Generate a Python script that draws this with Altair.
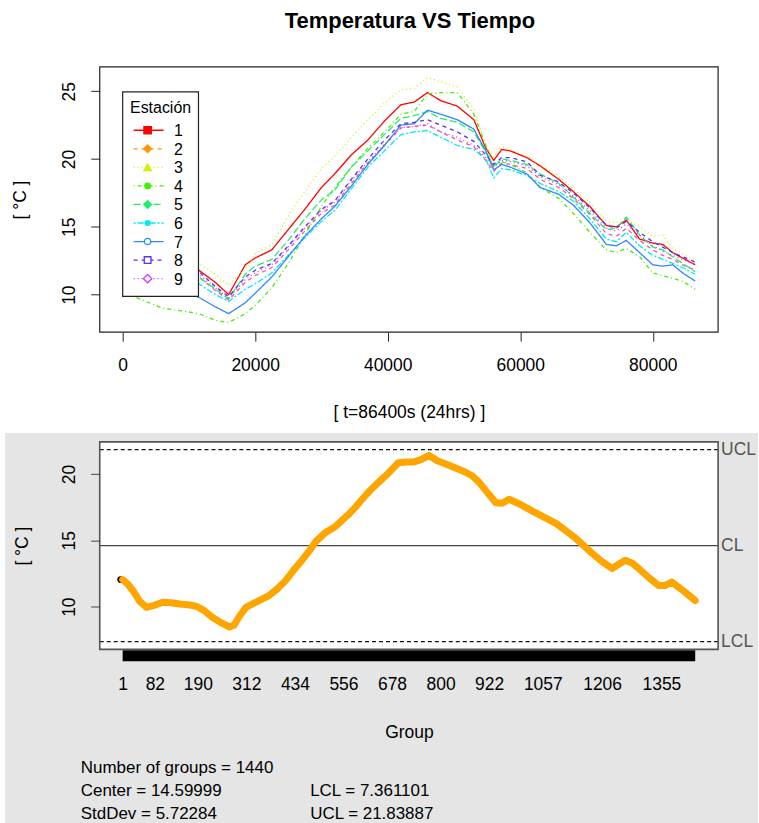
import altair as alt
import pandas as pd

# ---------------- data: top panel (temperature per station) ----------------
tiempo = [0, 3000, 6000, 9000, 11500, 14000, 16000, 18500, 20000, 22500, 25000,
          27500, 30000, 32000, 34500, 37000, 39500, 42000, 44000, 46000, 48000,
          50500, 53000, 54800, 56000, 57200, 58500, 61000, 63000, 65800, 68000,
          70500, 73000, 74500, 76000, 78000, 80000, 81500, 83000, 84500, 86400]

est1 = [12.6, 12.0, 11.9, 12.0, 11.8, 10.9, 10.0, 12.2, 12.7, 13.3, 14.8, 16.3, 17.9, 18.9,
        20.3, 21.4, 22.8, 24.0, 24.2, 24.9, 24.3, 23.9, 22.9, 20.8, 19.9, 20.7, 20.6, 20.1,
        19.5, 18.5, 17.6, 16.5, 15.1, 15.0, 15.5, 14.1, 13.8, 13.7, 13.1, 12.7, 12.2]
est2 = [11.9, 11.3, 11.2, 11.3, 11.3, 10.3, 9.6, 10.9, 11.4, 12.0, 13.3, 14.7, 16.0, 16.6,
        18.2, 19.7, 21.0, 22.3, 22.4, 22.5, 22.0, 21.4, 20.9, 19.9, 19.1, 19.7, 19.6, 19.3,
        18.5, 17.9, 17.1, 15.9, 14.5, 14.3, 14.9, 14.0, 13.3, 12.9, 12.6, 12.2, 11.8]
est3 = [13.0, 12.5, 12.4, 12.5, 12.3, 11.5, 10.7, 11.9, 13.0, 13.7, 15.8, 17.6, 19.3, 20.2,
        21.6, 22.9, 24.1, 25.1, 25.2, 26.0, 25.7, 25.3, 23.7, 21.0, 20.1, 20.9, 20.7, 20.2,
        19.6, 18.7, 17.8, 16.8, 15.4, 15.3, 15.6, 15.0, 14.3, 14.4, 13.4, 13.0, 12.5]
est4 = [10.2, 9.6, 9.0, 8.8, 8.6, 8.1, 7.95, 8.6, 9.2, 10.5, 12.3, 14.4, 16.5, 17.9,
        19.4, 20.8, 22.0, 23.3, 23.5, 24.8, 24.9, 24.9, 23.3, 21.0, 19.5, 19.8, 19.6, 19.0,
        17.9, 17.1, 16.0, 14.6, 13.3, 13.1, 13.4, 12.8, 11.6, 11.4, 11.2, 11.0, 10.4]
est5 = [12.0, 11.4, 11.2, 11.2, 11.3, 10.4, 9.7, 11.5, 12.1, 12.6, 14.0, 15.6, 17.0, 17.7,
        19.4, 20.6, 21.8, 23.0, 23.2, 23.5, 23.0, 22.7, 22.0, 20.5, 19.4, 20.0, 19.9, 19.6,
        18.9, 18.2, 17.2, 16.0, 14.8, 14.9, 15.7, 14.4, 13.5, 13.3, 12.8, 12.3, 11.7]
est6 = [11.7, 11.2, 11.0, 11.0, 10.8, 10.0, 9.5, 10.4, 10.8, 11.6, 12.9, 14.2, 15.4, 16.2,
        17.8, 19.4, 20.6, 21.8, 22.0, 22.1, 21.6, 21.0, 20.7, 20.0, 18.6, 19.3, 19.2, 18.8,
        18.2, 17.6, 16.9, 15.6, 14.1, 13.9, 14.6, 13.6, 12.9, 12.6, 12.3, 12.0, 11.5]
est7 = [11.3, 10.9, 10.6, 10.2, 9.8, 9.1, 8.6, 9.4, 10.1, 11.3, 12.8, 14.3, 15.6, 16.5,
        18.0, 19.6, 21.0, 22.5, 22.6, 23.6, 23.3, 22.9, 22.2, 20.6, 19.2, 19.6, 19.4, 18.9,
        17.9, 17.4, 16.6, 15.3, 13.7, 13.6, 14.0, 13.1, 12.2, 12.1, 12.2, 11.6, 11.0]
est8 = [12.2, 11.6, 11.5, 11.6, 11.7, 10.6, 9.85, 11.3, 11.8, 12.3, 13.6, 15.0, 16.3, 16.9,
        18.5, 20.0, 21.4, 22.6, 22.7, 22.9, 22.5, 22.0, 21.3, 20.3, 19.6, 20.1, 20.1, 19.8,
        18.8, 18.3, 17.5, 16.4, 15.1, 14.9, 15.4, 14.6, 13.9, 13.5, 13.1, 12.8, 12.4]
est9 = [12.1, 11.5, 11.4, 11.5, 11.5, 10.5, 9.75, 11.1, 11.6, 12.2, 13.5, 14.9, 16.2, 16.8,
        18.4, 19.8, 21.1, 22.3, 22.4, 22.6, 22.0, 21.6, 21.0, 20.1, 19.4, 19.9, 19.8, 19.5,
        18.7, 18.1, 17.3, 16.2, 14.9, 14.7, 15.2, 14.4, 13.6, 13.2, 12.9, 12.6, 12.2]

estaciones = ["1", "2", "3", "4", "5", "6", "7", "8", "9"]
series = [est1, est2, est3, est4, est5, est6, est7, est8, est9]

top_x_ticks = [0, 20000, 40000, 60000, 80000]
top_y_ticks = [10, 15, 20, 25]

# ---------------- data: bottom panel (qcc chart) ----------------
grupos = [1, 14, 27, 44, 61, 80, 102, 123, 144, 165, 186, 206, 227, 248, 269, 281, 295, 311,
          340, 369, 390, 411, 432, 452, 470, 486, 511, 536, 552, 569, 586, 603, 624, 644,
          670, 694, 713, 732, 752, 771, 792, 813, 838, 863, 880, 897, 918, 939, 955, 972,
          1001, 1031, 1060, 1089, 1114, 1139, 1160, 1181, 1206, 1231, 1248, 1264, 1281,
          1298, 1323, 1348, 1365, 1381, 1410, 1440]
valores = [12.04, 11.7, 11.2, 10.4, 9.95, 10.1, 10.33, 10.3, 10.2, 10.15, 10.03, 9.7, 9.18,
           8.8, 8.47, 8.6, 9.3, 9.95, 10.4, 10.84, 11.35, 11.98, 12.8, 13.5, 14.2, 14.9,
           15.6, 16.05, 16.5, 16.95, 17.5, 18.1, 18.8, 19.37, 20.1, 20.85, 20.9, 20.9, 21.1,
           21.4, 21.0, 20.76, 20.45, 20.13, 19.85, 19.37, 18.6, 17.84, 17.8, 18.1, 17.7,
           17.2, 16.75, 16.3, 15.75, 15.17, 14.6, 14.02, 13.4, 12.88, 13.2, 13.5, 13.3,
           12.88, 12.2, 11.6, 11.6, 11.85, 11.2, 10.46]

limit_labels = ["UCL", "CL", "LCL"]
limit_values = [21.83887, 14.59999, 7.361101]
group_ticks = [1, 82, 190, 312, 434, 556, 678, 800, 922, 1057, 1206, 1355]
bottom_y_ticks = [10, 15, 20]
n_groups = 1440
stats_left = ["Number of groups = 1440", "Center = 14.59999", "StdDev = 5.72284"]
stats_right = ["LCL = 7.361101", "UCL = 21.83887"]

# ---------------- styles ----------------
FONT = "Liberation Sans"
FS = 17.5
W = 620
H1 = 266
H2 = 208
line_colors = ["#FF0000", "#FF4FA3", "#D2F000", "#44EE00", "#1EEE6A",
               "#00EAF2", "#2F86FF", "#5B2EF0", "#C43CFF"]
legend_colors = ["#FF0000", "#FF9500", "#D2F000", "#44EE00", "#1EEE6A",
                 "#00EAF2", "#2F86FF", "#5B2EF0", "#C43CFF"]
dashes = [[1, 0], [4, 4], [1, 3], [1, 3, 4, 3], [7, 3], [2, 2, 6, 2], [1, 0], [4, 4], [1, 3]]
shapes = ["square", "diamond", "triangle-up", "circle", "diamond", "circle",
          "circle", "square", "diamond"]
filled = [True, True, True, True, True, True, False, False, False]
sizes = [55, 60, 55, 30, 60, 22, 40, 45, 70]
limit_colors = ["#111111", "#444444", "#111111"]
limit_dashes = [[4, 3], [1, 0], [4, 3]]

one = pd.DataFrame({"k": [0]})

# ---------------- top chart ----------------
rows = []
for name, vals in zip(estaciones, series):
    for t, v in zip(tiempo, vals):
        rows.append({"t": t, "temp": v, "serie": name})
df_top = pd.DataFrame(rows)

xs_top = alt.Scale(domain=[-3456, 89856], nice=False, zero=False)
ys_top = alt.Scale(domain=[7.23, 26.79], nice=False, zero=False)

top_bg = alt.Chart(one).mark_rect(fill="white").encode(
    x=alt.value(-99), x2=alt.value(660), y=alt.value(-65), y2=alt.value(367))

top_lines = alt.Chart(df_top).mark_line(strokeWidth=1.3).encode(
    x=alt.X("t:Q", scale=xs_top,
            axis=alt.Axis(values=top_x_ticks, format="d", grid=False, domain=False,
                          tickSize=9, tickColor="#222", labelFontSize=FS, labelFont=FONT,
                          labelColor="black", labelPadding=15, labelFlush=False,
                          labelOverlap=False, title="[ t=86400s (24hrs) ]",
                          titleFont=FONT, titleFontSize=FS, titleFontWeight="normal",
                          titleColor="black", titleX=310, titleY=81,
                          titleBaseline="middle", titleAlign="center", zindex=1)),
    y=alt.Y("temp:Q", scale=ys_top,
            axis=alt.Axis(values=top_y_ticks, grid=False, domain=False, tickSize=9,
                          tickColor="#222", labelFontSize=FS, labelFont=FONT,
                          labelColor="black", labelAngle=270, labelAlign="center",
                          labelBaseline="bottom", labelPadding=12, labelFlush=False,
                          title="[ °C ]", titleFont=FONT, titleFontSize=FS,
                          titleFontWeight="normal", titleColor="black", titleAngle=270,
                          titleX=-79, titleY=133, titleBaseline="middle",
                          titleAlign="center", zindex=1)),
    color=alt.Color("serie:N", scale=alt.Scale(domain=estaciones, range=line_colors),
                    legend=None),
    strokeDash=alt.StrokeDash("serie:N", scale=alt.Scale(domain=estaciones, range=dashes),
                              legend=None),
)

legend_box = alt.Chart(one).mark_rect(fill="white", stroke="#222", strokeWidth=1.2).encode(
    x=alt.value(23), x2=alt.value(99), y=alt.value(25), y2=alt.value(230))
legend_title = alt.Chart(one).mark_text(font=FONT, fontSize=16, baseline="middle",
                                        align="center", color="black").encode(
    x=alt.value(61), y=alt.value(41), text=alt.value("Estación"))

legend_layers = []
for i, name in enumerate(estaciones):
    ly = 63.5 + i * 18.6
    legend_layers.append(
        alt.Chart(one).mark_rule(color=legend_colors[i], strokeWidth=1.3,
                                 strokeDash=dashes[i]).encode(
            x=alt.value(34), x2=alt.value(64), y=alt.value(ly)))
    legend_layers.append(
        alt.Chart(one).mark_point(shape=shapes[i], size=sizes[i], filled=True, opacity=1,
                                  fill=legend_colors[i] if filled[i] else "white",
                                  stroke=legend_colors[i], strokeWidth=1.3).encode(
            x=alt.value(48), y=alt.value(ly)))
    legend_layers.append(
        alt.Chart(one).mark_text(font=FONT, fontSize=16, baseline="middle", align="center",
                                 color="black").encode(
            x=alt.value(79), y=alt.value(ly + 1), text=alt.value(name)))

top_frame = alt.Chart(one).mark_rect(fillOpacity=0, stroke="#222", strokeWidth=1.2).encode(
    x=alt.value(0), x2=alt.value(W), y=alt.value(0), y2=alt.value(H1))

top_title = alt.Chart(one).mark_text(font=FONT, fontSize=22, fontWeight="bold",
                                     baseline="middle", align="center", color="black").encode(
    x=alt.value(311), y=alt.value(-46), text=alt.value("Temperatura VS Tiempo"))

top = alt.layer(top_bg, top_lines, legend_box, legend_title, *legend_layers, top_frame,
                top_title).properties(width=W, height=H1)

# ---------------- bottom chart ----------------
df_q = pd.DataFrame({"g": grupos, "v": valores})
df_lim = pd.DataFrame({"lab": limit_labels, "v": limit_values})
df_bar = pd.DataFrame({"g0": [1], "g1": [n_groups]})
df_first = pd.DataFrame({"g": grupos[:1], "v": valores[:1]})

xs_bot = alt.Scale(domain=[1 - 0.04 * (n_groups - 1), n_groups + 0.04 * (n_groups - 1)],
                   nice=False, zero=False)
ys_bot = alt.Scale(domain=[6.78, 22.42], nice=False, zero=False)

bot_bg = alt.Chart(one).mark_rect(fill="#E5E5E5").encode(
    x=alt.value(-95), x2=alt.value(660), y=alt.value(-9), y2=alt.value(382))
bot_plot = alt.Chart(one).mark_rect(fill="white").encode(
    x=alt.value(0), x2=alt.value(W), y=alt.value(0), y2=alt.value(H2))

rule_layers = []
for lab, val, col, dsh in zip(limit_labels, limit_values, limit_colors, limit_dashes):
    rule_layers.append(
        alt.Chart(pd.DataFrame({"v": [val]})).mark_rule(
            color=col, strokeWidth=1.3, strokeDash=dsh).encode(
            y=alt.Y("v:Q", scale=ys_bot)))

bot_lim_text = alt.Chart(df_lim).mark_text(font=FONT, fontSize=FS, align="left",
                                           baseline="middle", color="#555").encode(
    x=alt.value(623), y=alt.Y("v:Q", scale=ys_bot), text="lab:N")

bot_first = alt.Chart(df_first).mark_circle(size=45, color="black", opacity=1,
                                            xOffset=-2).encode(
    x=alt.X("g:Q", scale=xs_bot), y=alt.Y("v:Q", scale=ys_bot))

bot_line = alt.Chart(df_q).mark_line(color="#FFA500", strokeWidth=7, strokeCap="round",
                                     strokeJoin="round").encode(
    x=alt.X("g:Q", scale=xs_bot,
            axis=alt.Axis(values=group_ticks, format="d", grid=False, domain=False,
                          ticks=False, labelFontSize=FS, labelFont=FONT,
                          labelColor="black", labelPadding=26, labelFlush=False,
                          labelOverlap=False, title="Group", titleFont=FONT,
                          titleFontSize=FS, titleFontWeight="normal", titleColor="black",
                          titleX=310, titleY=83, titleBaseline="middle",
                          titleAlign="center", zindex=1)),
    y=alt.Y("v:Q", scale=ys_bot,
            axis=alt.Axis(values=bottom_y_ticks, grid=False, domain=False, tickSize=9,
                          tickColor="#444", labelFontSize=FS, labelFont=FONT,
                          labelColor="black", labelAngle=270, labelAlign="center",
                          labelBaseline="bottom", labelPadding=12, labelFlush=False,
                          title="[ °C ]", titleFont=FONT, titleFontSize=FS,
                          titleFontWeight="normal", titleColor="black", titleAngle=270,
                          titleX=-77, titleY=104, titleBaseline="middle",
                          titleAlign="center", zindex=1)))

bot_bar = alt.Chart(df_bar).mark_rect(color="black").encode(
    x=alt.X("g0:Q", scale=xs_bot), x2="g1:Q", y=alt.value(209), y2=alt.value(220))

bot_frame = alt.Chart(one).mark_rect(fillOpacity=0, stroke="#555", strokeWidth=1.6).encode(
    x=alt.value(0), x2=alt.value(W), y=alt.value(0), y2=alt.value(H2))

stat_layers = []
for i, s in enumerate(stats_left):
    stat_layers.append(alt.Chart(one).mark_text(font=FONT, fontSize=17, align="left",
                                                baseline="middle", color="black").encode(
        x=alt.value(-19), y=alt.value(327 + 23 * i), text=alt.value(s)))
for i, s in enumerate(stats_right):
    stat_layers.append(alt.Chart(one).mark_text(font=FONT, fontSize=17, align="left",
                                                baseline="middle", color="black").encode(
        x=alt.value(211), y=alt.value(350 + 23 * i), text=alt.value(s)))

bottom = alt.layer(bot_bg, bot_plot, *rule_layers, bot_first, bot_line, bot_bar, bot_frame,
                   bot_lim_text, *stat_layers).properties(width=W, height=H2)

chart = alt.vconcat(top, bottom, spacing=110, bounds="flush").properties(
    padding=0, background="white"
).configure_view(stroke="transparent")

chart.save("out.html", embed_options={"renderer": "svg", "actions": False})
